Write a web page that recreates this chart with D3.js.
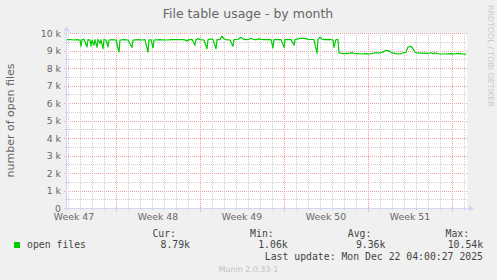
<!DOCTYPE html>
<html>
<head>
<meta charset="utf-8">
<script src="https://cdn.jsdelivr.net/npm/d3@7"></script>
<style>
  body { margin: 0; background: #f0f0f0; }
  svg text { font-family: "DejaVu Sans", sans-serif; fill: #666666; }
  svg text.mono { font-family: "DejaVu Sans Mono", monospace; fill: #444444; }
</style>
</head>
<body>
<svg id="chart" width="497" height="280"></svg>
<script>
// readings, one per pixel column where the line changes (2 h per pixel)
var times = [
  "2025-11-19 22", "2025-11-20 04", "2025-11-20 12", "2025-11-20 18", "2025-11-21 00", "2025-11-21 02",
  "2025-11-21 04", "2025-11-21 08", "2025-11-21 14", "2025-11-21 16", "2025-11-21 20", "2025-11-21 22",
  "2025-11-22 00", "2025-11-22 04", "2025-11-22 06", "2025-11-22 10", "2025-11-22 12", "2025-11-22 16",
  "2025-11-22 18", "2025-11-22 22", "2025-11-23 00", "2025-11-23 04", "2025-11-23 08", "2025-11-23 10",
  "2025-11-23 16", "2025-11-24 00", "2025-11-24 06", "2025-11-24 08", "2025-11-24 16", "2025-11-25 00",
  "2025-11-25 08", "2025-11-25 10", "2025-11-25 20", "2025-11-26 04", "2025-11-26 10", "2025-11-26 16",
  "2025-11-26 18", "2025-11-26 22", "2025-11-27 02", "2025-11-27 04", "2025-11-27 16", "2025-11-28 04",
  "2025-11-28 16", "2025-11-29 04", "2025-11-29 16", "2025-11-29 22", "2025-11-30 02", "2025-11-30 08",
  "2025-11-30 14", "2025-11-30 16", "2025-11-30 20", "2025-12-01 00", "2025-12-01 08", "2025-12-01 14",
  "2025-12-01 16", "2025-12-01 22", "2025-12-02 02", "2025-12-02 08", "2025-12-02 10", "2025-12-02 16",
  "2025-12-02 20", "2025-12-03 00", "2025-12-03 04", "2025-12-03 12", "2025-12-03 18", "2025-12-03 20",
  "2025-12-04 04", "2025-12-04 10", "2025-12-04 14", "2025-12-04 20", "2025-12-05 02", "2025-12-05 06",
  "2025-12-05 10", "2025-12-05 16", "2025-12-05 22", "2025-12-06 02", "2025-12-06 08", "2025-12-06 16",
  "2025-12-06 22", "2025-12-07 02", "2025-12-07 04", "2025-12-07 10", "2025-12-07 18", "2025-12-08 00",
  "2025-12-08 02", "2025-12-08 08", "2025-12-08 14", "2025-12-08 20", "2025-12-08 22", "2025-12-09 04",
  "2025-12-09 10", "2025-12-09 18", "2025-12-10 00", "2025-12-10 08", "2025-12-10 12", "2025-12-10 18",
  "2025-12-10 20", "2025-12-11 00", "2025-12-11 04", "2025-12-11 08", "2025-12-11 16", "2025-12-11 22",
  "2025-12-12 02", "2025-12-12 04", "2025-12-12 08", "2025-12-12 12", "2025-12-12 14", "2025-12-12 20",
  "2025-12-13 04", "2025-12-13 12", "2025-12-13 16", "2025-12-13 20", "2025-12-14 04", "2025-12-14 12",
  "2025-12-14 20", "2025-12-15 04", "2025-12-15 14", "2025-12-16 00", "2025-12-16 06", "2025-12-16 12",
  "2025-12-16 18", "2025-12-17 00", "2025-12-17 08", "2025-12-17 16", "2025-12-17 22", "2025-12-18 04",
  "2025-12-18 08", "2025-12-18 14", "2025-12-18 18", "2025-12-18 22", "2025-12-19 02", "2025-12-19 12",
  "2025-12-20 00", "2025-12-20 06", "2025-12-20 10", "2025-12-20 14", "2025-12-20 18", "2025-12-21 00",
  "2025-12-21 10", "2025-12-21 20", "2025-12-22 06", "2025-12-22 12", "2025-12-22 20", "2025-12-23 04"
];
var openFiles = [
  9620, 9630, 9600, 9620, 9600, 9250,
  9620, 9640, 9200, 9620, 9600, 9250,
  9600, 9300, 9620, 9180, 9640, 9400,
  9620, 9100, 9630, 9600, 9200, 9600,
  9620, 9600, 8900, 9600, 9620, 9600,
  9180, 9600, 9620, 9600, 9620, 8900,
  9600, 9620, 9150, 9600, 9620, 9600,
  9620, 9630, 9620, 9550, 9620, 9640,
  9300, 9620, 9680, 9620, 9600, 9100,
  9620, 9660, 9620, 9100, 9620, 9620,
  9820, 9660, 9620, 9600, 9240, 9620,
  9640, 9750, 9660, 9620, 9630, 9700,
  9640, 9620, 9660, 9640, 9620, 9630,
  9620, 9140, 9620, 9630, 9620, 9180,
  9620, 9640, 9620, 9300, 9620, 9660,
  9700, 9690, 9640, 9630, 9620, 8840,
  9620, 9760, 9660, 9620, 9640, 9620,
  9600, 9180, 9630, 9630, 8860, 8840,
  8820, 8850, 8880, 8840, 8820, 8800,
  8820, 8800, 8860, 8860, 8920, 9010,
  8980, 8860, 8820, 8800, 8860, 8900,
  9200, 9240, 9100, 8900, 8860, 8850,
  8840, 8870, 8820, 8870, 8830, 8800,
  8800, 8820, 8800, 8840, 8810, 8790
];

var yTicks = [0, 1000, 2000, 3000, 4000, 5000, 6000, 7000, 8000, 9000, 10000];
var weekDates = ["2025-11-20 12", "2025-11-27 12", "2025-12-04 12", "2025-12-11 12", "2025-12-18 12"];
var weekLabels = ["Week 47", "Week 48", "Week 49", "Week 50", "Week 51"];
var legendHeads = ["Cur:", "Min:", "Avg:", "Max:"];
var legendValues = ["8.79k", "1.06k", "9.36k", "10.54k"];
var seriesName = "open files";
var lastUpdate = "Mon Dec 22 04:00:27 2025";
var timeSpan = ["2025-11-19 22", "2025-12-23 06"];

var parse = d3.utcParse("%Y-%m-%d %H");
var data = times.map(function (t, i) {
    return { t: parse(t), v: openFiles[i] };
});

var svg = d3.select("#chart"),
    plotL = 67, plotR = 467, plotT = 33, plotB = 208,
    gridCol = "#cdcdcd", mgridCol = "#eda0a0", axisCol = "#cfd6f8";

var x = d3.scaleUtc()
    .domain(timeSpan.map(parse))
    .range([plotL, plotR]);
var y = d3.scaleLinear()
    .domain([0, 10000])
    .range([plotB, plotT]);

// canvas
svg.append("rect")
    .attr("x", plotL).attr("y", plotT)
    .attr("width", plotR - plotL).attr("height", plotB - plotT)
    .attr("fill", "#ffffff");

var grid = svg.append("g").attr("shape-rendering", "crispEdges");

// horizontal grid: minor every 500, major every 1000
var minorY = d3.range(500, 10000, 1000);
grid.selectAll("line.hmin").data(minorY).enter().append("line")
    .attr("x1", plotL - 2).attr("x2", plotR)
    .attr("y1", function (d) { return Math.round(y(d)) + 0.5; })
    .attr("y2", function (d) { return Math.round(y(d)) + 0.5; })
    .attr("stroke", gridCol)
    .attr("stroke-dasharray", "1,1");
grid.selectAll("line.hmaj").data(yTicks.filter(function (d) { return d > 0; })).enter().append("line")
    .attr("x1", plotL - 3).attr("x2", plotR)
    .attr("y1", function (d) { return Math.round(y(d)) + 0.5; })
    .attr("y2", function (d) { return Math.round(y(d)) + 0.5; })
    .attr("stroke", mgridCol)
    .attr("stroke-dasharray", "1,1");

// vertical grid: days (minor), Mondays (major)
var days = d3.utcDay.range(x.domain()[0], x.domain()[1]);
var isMonday = function (d) { return d.getUTCDay() === 1; };
grid.selectAll("line.vgrid").data(days).enter().append("line")
    .attr("x1", function (d) { return Math.round(x(d)) + 0.5; })
    .attr("x2", function (d) { return Math.round(x(d)) + 0.5; })
    .attr("y1", plotT)
    .attr("y2", function (d) { return isMonday(d) ? plotB + 4 : plotB + 2; })
    .attr("stroke", function (d) { return isMonday(d) ? mgridCol : gridCol; })
    .attr("stroke-dasharray", "1,1");

// axes with arrows
var axes = svg.append("g");
axes.append("line")
    .attr("x1", plotL - 3).attr("x2", plotR + 3)
    .attr("y1", plotB + 0.5).attr("y2", plotB + 0.5)
    .attr("stroke", axisCol).attr("shape-rendering", "crispEdges");
axes.append("line")
    .attr("x1", plotL - 0.5).attr("x2", plotL - 0.5)
    .attr("y1", plotB + 3).attr("y2", plotT - 3)
    .attr("stroke", axisCol).attr("shape-rendering", "crispEdges");
axes.append("path")
    .attr("d", "M" + (plotR + 7) + "," + (plotB + 0.5) + "l-5,-3v6z")
    .attr("fill", axisCol);
axes.append("path")
    .attr("d", "M" + (plotL - 0.5) + "," + (plotT - 7) + "l-3,5h6z")
    .attr("fill", axisCol);

// data line
var line = d3.line()
    .x(function (d) { return x(d.t); })
    .y(function (d) { return y(d.v); });
svg.append("path")
    .datum(data)
    .attr("d", line)
    .attr("fill", "none")
    .attr("stroke", "#00cc00")
    .attr("stroke-width", 1.2)
    .attr("stroke-linejoin", "round");

// tick labels
svg.append("g").selectAll("text").data(yTicks).enter().append("text")
    .attr("x", plotL - 6)
    .attr("y", function (d) { return y(d) + 3.5; })
    .attr("text-anchor", "end")
    .style("font-size", "9.3px")
    .text(function (d) { return d === 0 ? "0" : (d / 1000) + " k"; });

svg.append("g").selectAll("text").data(weekDates).enter().append("text")
    .attr("x", function (d) { return x(parse(d)); })
    .attr("y", plotB + 12)
    .attr("text-anchor", "middle")
    .style("font-size", "9.3px")
    .text(function (d, i) { return weekLabels[i]; });

// titles
svg.append("text")
    .attr("x", 248).attr("y", 17.5)
    .attr("text-anchor", "middle")
    .style("font-size", "12.5px")
    .text("File table usage - by month");

svg.append("text")
    .attr("transform", "translate(14," + ((plotT + plotB) / 2) + ") rotate(-90)")
    .attr("text-anchor", "middle")
    .style("font-size", "11px")
    .text("number of open files");

svg.append("text")
    .attr("transform", "translate(488,5) rotate(90)")
    .style("font-size", "7.9px")
    .style("fill", "#c8c8c8")
    .text("RRDTOOL / TOBI OETIKER");

// legend
var legend = svg.append("g");
legend.append("rect")
    .attr("x", 14).attr("y", 242)
    .attr("width", 6).attr("height", 6)
    .attr("fill", "#00cc00");
legend.append("text")
    .attr("class", "mono")
    .attr("x", 27).attr("y", 248)
    .style("font-size", "9.8px")
    .text(seriesName);
legend.selectAll("text.head").data(legendHeads).enter().append("text")
    .attr("class", "mono")
    .attr("x", function (d, i) { return 176 + i * 97.7; })
    .attr("y", 237)
    .attr("text-anchor", "end")
    .style("font-size", "9.8px")
    .text(function (d) { return d; });
legend.selectAll("text.val").data(legendValues).enter().append("text")
    .attr("class", "mono")
    .attr("x", function (d, i) { return 190 + i * 97.7; })
    .attr("y", 248)
    .attr("text-anchor", "end")
    .style("font-size", "9.8px")
    .text(function (d) { return d; });
legend.append("text")
    .attr("class", "mono")
    .attr("x", 483).attr("y", 260)
    .attr("text-anchor", "end")
    .style("font-size", "9.8px")
    .text("Last update: " + lastUpdate);

svg.append("text")
    .attr("x", 248.5).attr("y", 272)
    .attr("text-anchor", "middle")
    .style("font-size", "7.9px")
    .style("fill", "#c0c0c0")
    .text("Munin 2.0.33-1");
</script>
</body>
</html>
